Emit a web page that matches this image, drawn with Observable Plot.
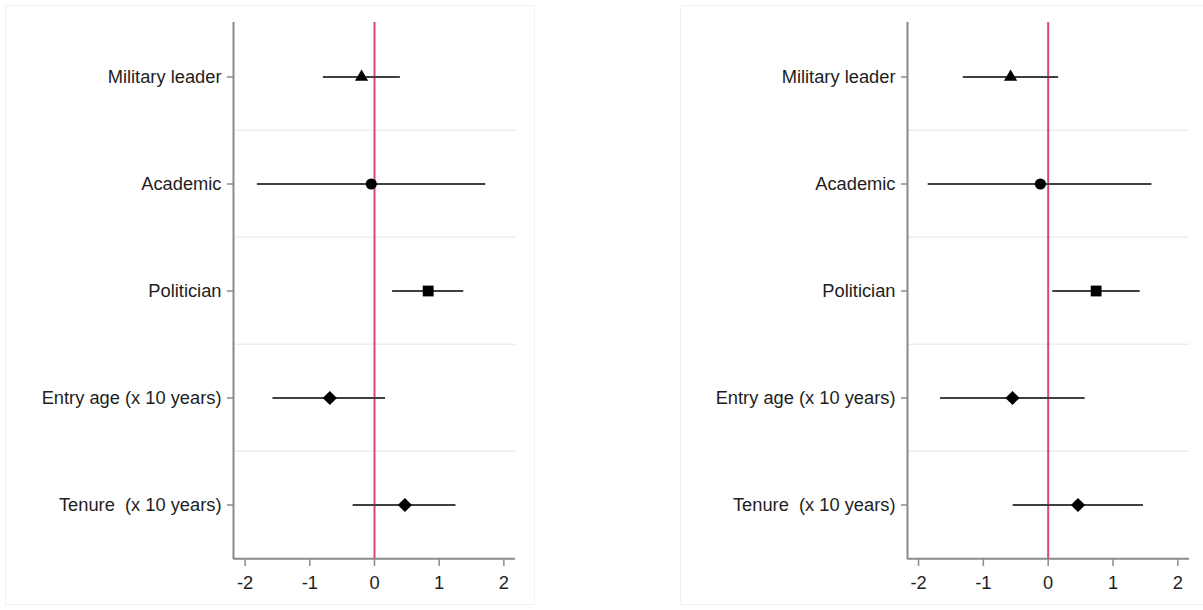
<!DOCTYPE html>
<html><head><meta charset="utf-8">
<script src="https://cdn.jsdelivr.net/npm/d3@7"></script>
<script src="https://cdn.jsdelivr.net/npm/@observablehq/plot@0.6"></script>
<style>
body{margin:0;background:#fff;width:1203px;height:610px;overflow:hidden;position:relative;font-family:"Liberation Sans",Arial,sans-serif;}
.panel{position:absolute;top:5px;height:600px;border:1px solid #f1f1f1;box-sizing:border-box;}
.chart{position:absolute;top:0;}
svg text{white-space:pre;}
</style></head><body>
<div class="panel" style="left:5px;width:530px"></div>
<div class="panel" style="left:680px;width:540px"></div>
<div id="left" class="chart" style="left:0"></div>
<div id="right" class="chart" style="left:663px"></div>
<script>
const categories = ["Military leader", "Academic", "Politician", "Entry age (x 10 years)", "Tenure  (x 10 years)"];
const shapes = ["triangle", "circle", "square", "diamond2", "diamond2"];
const xTicks = [-2, -1, 0, 1, 2];

const leftEst = [-0.20, -0.05, 0.83, -0.69, 0.47];
const leftLo  = [-0.79, -1.81, 0.28, -1.57, -0.33];
const leftHi  = [0.40, 1.72, 1.38, 0.17, 1.26];

const rightEst = [-0.58, -0.12, 0.74, -0.55, 0.46];
const rightLo  = [-1.31, -1.85, 0.07, -1.66, -0.54];
const rightHi  = [0.16, 1.60, 1.42, 0.57, 1.47];

const symbolSize = {triangle: 4.9, circle: 5.6, square: 6.1, diamond2: 6.4};

function panel({est, lo, hi, xDomain, marginLeft, marginRight}) {
  const width = 540, height = 610, marginTop = 22, marginBottom = 51;
  const band = (height - marginTop - marginBottom) / categories.length;
  const rows = categories.map((c, i) => ({cat: c, est: est[i], lo: lo[i], hi: hi[i], shape: shapes[i]}));
  const axisColor = "#8a8a8a";
  return Plot.plot({
    width, height, marginTop, marginBottom, marginLeft, marginRight,
    style: {fontFamily: "'Liberation Sans', Arial, sans-serif", fontSize: "18.3px", color: "#1e1e1e", background: "transparent", overflow: "visible"},
    x: {domain: xDomain, label: null},
    y: {domain: categories, type: "band", padding: 0, label: null},
    marks: [
      Plot.ruleY(categories.slice(1), {dy: -band / 2, stroke: "#e8eff1", strokeWidth: 1.5}),
      Plot.ruleX([0], {stroke: "#d9486e", strokeWidth: 2}),
      Plot.ruleY(rows, {y: "cat", x1: "lo", x2: "hi", stroke: "#404040", strokeWidth: 2}),
      ...rows.map(r => Plot.dot([r], {x: "est", y: "cat", symbol: r.shape, r: symbolSize[r.shape], fill: "#000", stroke: null})),
      Plot.ruleX([xDomain[0]], {stroke: axisColor, strokeWidth: 2}),
      Plot.ruleY([categories[categories.length - 1]], {dy: band / 2, stroke: axisColor, strokeWidth: 2}),
      Plot.axisX({ticks: xTicks, tickFormat: d => String(d), tickSize: 7, tickPadding: 9, stroke: axisColor, strokeWidth: 1.5, fill: "#1e1e1e"}),
      Plot.axisY({tickSize: 6, tickPadding: 6, stroke: axisColor, strokeWidth: 1.5, fill: "#1e1e1e"})
    ]
  });
}

document.getElementById("left").append(panel({est: leftEst, lo: leftLo, hi: leftHi, xDomain: [-2.18, 2.18], marginLeft: 233, marginRight: 25}));
document.getElementById("right").append(panel({est: rightEst, lo: rightLo, hi: rightHi, xDomain: [-2.17, 2.18], marginLeft: 244, marginRight: 14}));
</script>
</body></html>
